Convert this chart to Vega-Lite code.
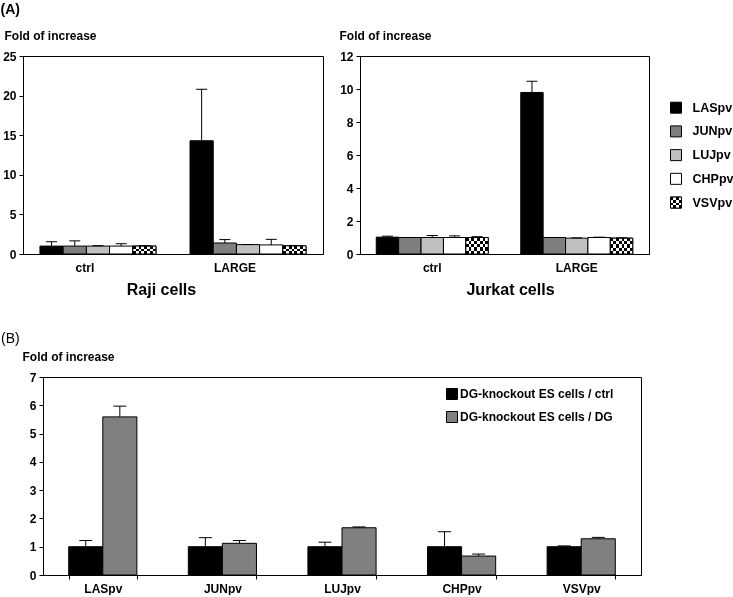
{
  "$schema": "https://vega.github.io/schema/vega-lite/v6.json",
  "padding": {"left": 0, "top": 2, "right": 0, "bottom": 0},
  "title": {"text": "(A)", "anchor": "start", "fontSize": 14, "fontWeight": "bold", "offset": 12, "color": "#000"},
  "datasets": {
    "top": [
      {"cell": "Raji", "group": "ctrl", "virus": "LASpv", "value": 1.0, "err": 1.55},
      {"cell": "Raji", "group": "ctrl", "virus": "JUNpv", "value": 1.0, "err": 1.66},
      {"cell": "Raji", "group": "ctrl", "virus": "LUJpv", "value": 1.0, "err": 1.05},
      {"cell": "Raji", "group": "ctrl", "virus": "CHPpv", "value": 1.0, "err": 1.3},
      {"cell": "Raji", "group": "ctrl", "virus": "VSVpv", "value": 1.0, "err": 1.05},
      {"cell": "Raji", "group": "LARGE", "virus": "LASpv", "value": 14.3, "err": 20.8},
      {"cell": "Raji", "group": "LARGE", "virus": "JUNpv", "value": 1.39, "err": 1.82},
      {"cell": "Raji", "group": "LARGE", "virus": "LUJpv", "value": 1.18, "err": 1.2},
      {"cell": "Raji", "group": "LARGE", "virus": "CHPpv", "value": 1.15, "err": 1.85},
      {"cell": "Raji", "group": "LARGE", "virus": "VSVpv", "value": 1.03, "err": 1.08},
      {"cell": "Jurkat", "group": "ctrl", "virus": "LASpv", "value": 1.02, "err": 1.08},
      {"cell": "Jurkat", "group": "ctrl", "virus": "JUNpv", "value": 1.0, "err": 1.0},
      {"cell": "Jurkat", "group": "ctrl", "virus": "LUJpv", "value": 1.0, "err": 1.12},
      {"cell": "Jurkat", "group": "ctrl", "virus": "CHPpv", "value": 1.0, "err": 1.1},
      {"cell": "Jurkat", "group": "ctrl", "virus": "VSVpv", "value": 1.0, "err": 1.05},
      {"cell": "Jurkat", "group": "LARGE", "virus": "LASpv", "value": 9.79, "err": 10.47},
      {"cell": "Jurkat", "group": "LARGE", "virus": "JUNpv", "value": 1.0, "err": 1.0},
      {"cell": "Jurkat", "group": "LARGE", "virus": "LUJpv", "value": 0.96, "err": 0.98},
      {"cell": "Jurkat", "group": "LARGE", "virus": "CHPpv", "value": 1.0, "err": 1.02},
      {"cell": "Jurkat", "group": "LARGE", "virus": "VSVpv", "value": 0.96, "err": 0.98}
    ],
    "bottom": [
      {"virus": "LASpv", "cond": "DG-knockout ES cells / ctrl", "value": 1.0, "err": 1.22},
      {"virus": "LASpv", "cond": "DG-knockout ES cells / DG", "value": 5.59, "err": 5.97},
      {"virus": "JUNpv", "cond": "DG-knockout ES cells / ctrl", "value": 1.0, "err": 1.32},
      {"virus": "JUNpv", "cond": "DG-knockout ES cells / DG", "value": 1.12, "err": 1.22},
      {"virus": "LUJpv", "cond": "DG-knockout ES cells / ctrl", "value": 1.0, "err": 1.16},
      {"virus": "LUJpv", "cond": "DG-knockout ES cells / DG", "value": 1.67, "err": 1.7},
      {"virus": "CHPpv", "cond": "DG-knockout ES cells / ctrl", "value": 1.0, "err": 1.53},
      {"virus": "CHPpv", "cond": "DG-knockout ES cells / DG", "value": 0.67, "err": 0.74},
      {"virus": "VSVpv", "cond": "DG-knockout ES cells / ctrl", "value": 1.0, "err": 1.03},
      {"virus": "VSVpv", "cond": "DG-knockout ES cells / DG", "value": 1.28, "err": 1.33}
    ]
  },
  "spacing": 33,
  "resolve": {"scale": {"color": "independent", "x": "independent", "y": "independent", "xOffset": "independent"}, "legend": {"color": "independent"}},
  "vconcat": [
    {
      "spacing": 14,
      "resolve": {"scale": {"color": "independent", "x": "independent", "y": "independent", "xOffset": "independent"}, "legend": {"color": "independent"}},
      "hconcat": [
        {
          "width": 300, "height": 198,
          "data": {"name": "top"},
          "transform": [{"filter": "datum.cell == 'Raji'"}],
          "encoding": {
            "x": {"field": "group", "type": "nominal", "sort": ["ctrl", "LARGE"], "scale": {"domain": ["ctrl", "LARGE"], "paddingInner": 0.227, "paddingOuter": 0.113},
                  "axis": {"title": "Raji cells", "labelAngle": 0, "ticks": false, "labelPadding": 8, "labelOffset": -13, "labelFontSize": 12, "titleFontSize": 16, "titlePadding": 8, "titleX": 138}},
            "xOffset": {"field": "virus", "type": "nominal", "sort": ["LASpv", "JUNpv", "LUJpv", "CHPpv", "VSVpv"], "scale": {"domain": ["LASpv", "JUNpv", "LUJpv", "CHPpv", "VSVpv"], "paddingInner": 0, "paddingOuter": 0}},
            "y": {"field": "value", "type": "quantitative", "scale": {"domain": [0, 25], "nice": false},
                  "axis": {"values": [0, 5, 10, 15, 20, 25], "labelOverlap": false, "title": "Fold of increase", "titleAngle": 0, "titleAlign": "left", "titleBaseline": "middle", "titleX": -19, "titleY": -21, "titleFontSize": 12, "tickSize": 4, "labelPadding": 3, "labelFontSize": 12}}
          },
          "layer": [
            {"mark": {"type": "bar", "stroke": "#000", "strokeWidth": 1, "opacity": 1},
             "encoding": {
               "color": {"field": "virus", "type": "nominal", "scale": {"domain": ["LASpv", "JUNpv", "LUJpv", "CHPpv", "VSVpv"], "range": ["#000000", "#7f7f7f", "#c0c0c0", "#ffffff", "#ffffff"]}, "legend": null}
             }},
            {"transform": [{"filter": "datum.virus == 'VSVpv'"}],
             "mark": {"type": "bar", "opacity": 1, "fill": {"gradient": "linear", "x1": 0, "y1": 0, "x2": 1, "y2": 0, "stops": [
               {"offset": 0, "color": "#000"}, {"offset": 0.125, "color": "#000"}, {"offset": 0.125, "color": "#fff"}, {"offset": 0.25, "color": "#fff"},
               {"offset": 0.25, "color": "#000"}, {"offset": 0.375, "color": "#000"}, {"offset": 0.375, "color": "#fff"}, {"offset": 0.5, "color": "#fff"},
               {"offset": 0.5, "color": "#000"}, {"offset": 0.625, "color": "#000"}, {"offset": 0.625, "color": "#fff"}, {"offset": 0.75, "color": "#fff"},
               {"offset": 0.75, "color": "#000"}, {"offset": 0.875, "color": "#000"}, {"offset": 0.875, "color": "#fff"}, {"offset": 1, "color": "#fff"}]}}},
            {"transform": [{"filter": "datum.virus == 'VSVpv'"}],
             "mark": {"type": "bar", "opacity": 1, "blend": "difference", "fill": {"gradient": "linear", "x1": 0, "y1": 0, "x2": 0, "y2": 1, "stops": [
               {"offset": 0, "color": "rgba(255,255,255,0)"}, {"offset": 0.3333, "color": "rgba(255,255,255,0)"}, {"offset": 0.3333, "color": "#fff"}, {"offset": 0.6667, "color": "#fff"},
               {"offset": 0.6667, "color": "rgba(255,255,255,0)"}, {"offset": 1, "color": "rgba(255,255,255,0)"}]}}},
            {"transform": [{"filter": "datum.virus == 'VSVpv'"}],
             "mark": {"type": "bar", "fill": "transparent", "stroke": "#000", "strokeWidth": 1}},
            {"mark": {"type": "rule", "color": "#000", "strokeWidth": 1},
             "encoding": {"y2": {"field": "err"}}},
            {"mark": {"type": "tick", "color": "#000", "size": 11, "thickness": 1, "opacity": 1},
             "encoding": {"y": {"field": "err", "type": "quantitative", "scale": {"domain": [0, 25], "nice": false},
                  "axis": {"values": [0, 5, 10, 15, 20, 25], "labelOverlap": false, "title": "Fold of increase", "titleAngle": 0, "titleAlign": "left", "titleBaseline": "middle", "titleX": -19, "titleY": -21, "titleFontSize": 12, "tickSize": 4, "labelPadding": 3, "labelFontSize": 12}}}}
          ]
        },
        {
          "width": 289, "height": 198,
          "data": {"name": "top"},
          "transform": [{"filter": "datum.cell == 'Jurkat'"}],
          "encoding": {
            "x": {"field": "group", "type": "nominal", "sort": ["ctrl", "LARGE"], "scale": {"domain": ["ctrl", "LARGE"], "paddingInner": 0.225, "paddingOuter": 0.1125},
                  "axis": {"title": "Jurkat cells", "labelAngle": 0, "ticks": false, "labelPadding": 8, "labelFontSize": 12, "titleFontSize": 16, "titlePadding": 8, "titleX": 150}},
            "xOffset": {"field": "virus", "type": "nominal", "sort": ["LASpv", "JUNpv", "LUJpv", "CHPpv", "VSVpv"], "scale": {"domain": ["LASpv", "JUNpv", "LUJpv", "CHPpv", "VSVpv"], "paddingInner": 0, "paddingOuter": 0}},
            "y": {"field": "value", "type": "quantitative", "scale": {"domain": [0, 12], "nice": false},
                  "axis": {"values": [0, 2, 4, 6, 8, 10, 12], "labelOverlap": false, "title": "Fold of increase", "titleAngle": 0, "titleAlign": "left", "titleBaseline": "middle", "titleX": -21, "titleY": -21, "titleFontSize": 12, "tickSize": 4, "labelPadding": 3, "labelFontSize": 12}}
          },
          "layer": [
            {"mark": {"type": "bar", "stroke": "#000", "strokeWidth": 1, "opacity": 1},
             "encoding": {
               "color": {"field": "virus", "type": "nominal", "scale": {"domain": ["LASpv", "JUNpv", "LUJpv", "CHPpv", "VSVpv"], "range": ["#000000", "#7f7f7f", "#c0c0c0", "#ffffff", "#ffffff"]}, "legend": null}
             }},
            {"transform": [{"filter": "datum.virus == 'VSVpv'"}],
             "mark": {"type": "bar", "opacity": 1, "fill": {"gradient": "linear", "x1": 0, "y1": 0, "x2": 1, "y2": 0, "stops": [
               {"offset": 0, "color": "#000"}, {"offset": 0.125, "color": "#000"}, {"offset": 0.125, "color": "#fff"}, {"offset": 0.25, "color": "#fff"},
               {"offset": 0.25, "color": "#000"}, {"offset": 0.375, "color": "#000"}, {"offset": 0.375, "color": "#fff"}, {"offset": 0.5, "color": "#fff"},
               {"offset": 0.5, "color": "#000"}, {"offset": 0.625, "color": "#000"}, {"offset": 0.625, "color": "#fff"}, {"offset": 0.75, "color": "#fff"},
               {"offset": 0.75, "color": "#000"}, {"offset": 0.875, "color": "#000"}, {"offset": 0.875, "color": "#fff"}, {"offset": 1, "color": "#fff"}]}}},
            {"transform": [{"filter": "datum.virus == 'VSVpv'"}],
             "mark": {"type": "bar", "opacity": 1, "blend": "difference", "fill": {"gradient": "linear", "x1": 0, "y1": 0, "x2": 0, "y2": 1, "stops": [
               {"offset": 0, "color": "rgba(255,255,255,0)"}, {"offset": 0.2, "color": "rgba(255,255,255,0)"}, {"offset": 0.2, "color": "#fff"}, {"offset": 0.4, "color": "#fff"},
               {"offset": 0.4, "color": "rgba(255,255,255,0)"}, {"offset": 0.6, "color": "rgba(255,255,255,0)"}, {"offset": 0.6, "color": "#fff"}, {"offset": 0.8, "color": "#fff"},
               {"offset": 0.8, "color": "rgba(255,255,255,0)"}, {"offset": 1, "color": "rgba(255,255,255,0)"}]}}},
            {"transform": [{"filter": "datum.virus == 'VSVpv'"}],
             "mark": {"type": "bar", "fill": "transparent", "stroke": "#000", "strokeWidth": 1}},
            {"mark": {"type": "rule", "color": "#000", "strokeWidth": 1},
             "encoding": {"y2": {"field": "err"}}},
            {"mark": {"type": "tick", "color": "#000", "size": 11, "thickness": 1, "opacity": 1},
             "encoding": {"y": {"field": "err", "type": "quantitative", "scale": {"domain": [0, 12], "nice": false},
                  "axis": {"values": [0, 2, 4, 6, 8, 10, 12], "labelOverlap": false, "title": "Fold of increase", "titleAngle": 0, "titleAlign": "left", "titleBaseline": "middle", "titleX": -21, "titleY": -21, "titleFontSize": 12, "tickSize": 4, "labelPadding": 3, "labelFontSize": 12}}}}
          ]
        },
        {
          "width": 70, "height": 166,
          "view": {"stroke": null},
          "data": {"name": "top"},
          "transform": [{"filter": "datum.cell == 'Raji' && datum.group == 'ctrl'"}],
          "encoding": {
            "y": {"field": "virus", "type": "nominal", "scale": {"domain": [" ", "LASpv", "JUNpv", "LUJpv", "CHPpv", "VSVpv"], "padding": 1, "align": 0.59}, "axis": null},
            "x": {"datum": 12, "type": "quantitative", "scale": {"domain": [0, 70], "nice": false, "zero": false}, "axis": null}
          },
          "layer": [
            {"mark": {"type": "square", "size": 121, "filled": true, "opacity": 1, "stroke": "#000", "strokeWidth": 1},
             "encoding": {
               "color": {"field": "virus", "type": "nominal", "scale": {"domain": ["LASpv", "JUNpv", "LUJpv", "CHPpv", "VSVpv"], "range": ["#000000", "#7f7f7f", "#c0c0c0", "#ffffff", "#ffffff"]}, "legend": null}
             }},
            {"transform": [{"filter": "datum.virus == 'VSVpv'"}],
             "mark": {"type": "square", "size": 121, "filled": true, "opacity": 1, "fill": {"gradient": "linear", "x1": 0, "y1": 0, "x2": 1, "y2": 0, "stops": [
               {"offset": 0, "color": "#000"}, {"offset": 0.25, "color": "#000"}, {"offset": 0.25, "color": "#fff"}, {"offset": 0.5, "color": "#fff"},
               {"offset": 0.5, "color": "#000"}, {"offset": 0.75, "color": "#000"}, {"offset": 0.75, "color": "#fff"}, {"offset": 1, "color": "#fff"}]}}},
            {"transform": [{"filter": "datum.virus == 'VSVpv'"}],
             "mark": {"type": "square", "size": 121, "filled": true, "opacity": 1, "blend": "difference", "fill": {"gradient": "linear", "x1": 0, "y1": 0, "x2": 0, "y2": 1, "stops": [
               {"offset": 0, "color": "rgba(255,255,255,0)"}, {"offset": 0.25, "color": "rgba(255,255,255,0)"}, {"offset": 0.25, "color": "#fff"}, {"offset": 0.5, "color": "#fff"},
               {"offset": 0.5, "color": "rgba(255,255,255,0)"}, {"offset": 0.75, "color": "rgba(255,255,255,0)"}, {"offset": 0.75, "color": "#fff"}, {"offset": 1, "color": "#fff"}]}}},
            {"transform": [{"filter": "datum.virus == 'VSVpv'"}],
             "mark": {"type": "square", "size": 121, "filled": false, "opacity": 1, "stroke": "#000", "strokeWidth": 1}},
            {"mark": {"type": "text", "align": "left", "baseline": "middle", "fontSize": 12.5, "fontWeight": "bold", "color": "#000"},
             "encoding": {"x": {"datum": 28.5, "type": "quantitative"}, "text": {"field": "virus"}}}
          ]
        }
      ]
    },
    {
      "spacing": -24,
      "resolve": {"scale": {"color": "independent", "x": "independent", "y": "independent", "xOffset": "independent"}, "legend": {"color": "independent"}},
      "hconcat": [
        {
          "width": 1, "height": 1,
          "view": {"stroke": null},
          "data": {"values": []},
          "mark": {"type": "point", "opacity": 0}
        },
        {
          "width": 598, "height": 198,
          "title": {"text": "(B)", "anchor": "start", "dx": -21, "fontSize": 14, "fontWeight": "normal", "offset": 4, "color": "#000"},
          "data": {"name": "bottom"},
          "encoding": {
            "x": {"field": "virus", "type": "nominal", "sort": ["LASpv", "JUNpv", "LUJpv", "CHPpv", "VSVpv"], "scale": {"domain": ["LASpv", "JUNpv", "LUJpv", "CHPpv", "VSVpv"], "paddingInner": 0.43, "paddingOuter": 0.215},
                  "axis": {"title": null, "labelAngle": 0, "tickBand": "extent", "tickSize": 4, "labelPadding": 4, "labelFontSize": 12}},
            "xOffset": {"field": "cond", "type": "nominal", "sort": ["DG-knockout ES cells / ctrl", "DG-knockout ES cells / DG"], "scale": {"domain": ["DG-knockout ES cells / ctrl", "DG-knockout ES cells / DG"], "paddingInner": 0, "paddingOuter": 0}},
            "y": {"field": "value", "type": "quantitative", "scale": {"domain": [0, 7], "nice": false},
                  "axis": {"values": [0, 1, 2, 3, 4, 5, 6, 7], "labelOverlap": false, "title": "Fold of increase", "titleAngle": 0, "titleAlign": "left", "titleBaseline": "middle", "titleX": -21, "titleY": -21, "titleFontSize": 12, "tickSize": 4, "labelPadding": 3, "labelFontSize": 12}}
          },
          "layer": [
            {"mark": {"type": "bar", "stroke": "#000", "strokeWidth": 1, "opacity": 1},
             "encoding": {
               "color": {"field": "cond", "type": "nominal", "scale": {"domain": ["DG-knockout ES cells / ctrl", "DG-knockout ES cells / DG"], "range": ["#000000", "#808080"]},
                         "legend": {"title": null, "orient": "none", "legendX": 403, "legendY": 11, "symbolType": "square", "symbolSize": 121, "symbolStrokeColor": "#000", "symbolStrokeWidth": 1, "symbolOpacity": 1, "labelFontSize": 12, "labelFontWeight": "bold", "labelColor": "#000", "labelLimit": 400, "rowPadding": 7, "labelOffset": 2, "padding": 0}}
             }},
            {"mark": {"type": "rule", "color": "#000", "strokeWidth": 1},
             "encoding": {"y2": {"field": "err"}}},
            {"mark": {"type": "tick", "color": "#000", "size": 13, "thickness": 1, "opacity": 1},
             "encoding": {"y": {"field": "err", "type": "quantitative", "scale": {"domain": [0, 7], "nice": false},
                  "axis": {"values": [0, 1, 2, 3, 4, 5, 6, 7], "labelOverlap": false, "title": "Fold of increase", "titleAngle": 0, "titleAlign": "left", "titleBaseline": "middle", "titleX": -21, "titleY": -21, "titleFontSize": 12, "tickSize": 4, "labelPadding": 3, "labelFontSize": 12}}}}
          ]
        }
      ]
    }
  ],
  "config": {
    "font": "Liberation Sans",
    "background": "#ffffff",
    "view": {"stroke": "#000", "strokeWidth": 1},
    "title": {"color": "#000"},
    "axis": {"grid": false, "domainColor": "#000", "tickColor": "#000", "labelColor": "#000", "titleColor": "#000", "labelFontWeight": "bold", "titleFontWeight": "bold"}
  }
}
